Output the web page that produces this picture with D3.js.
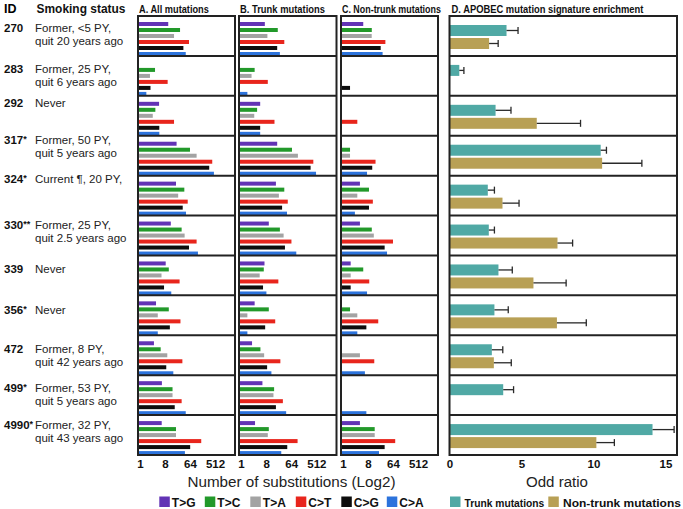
<!DOCTYPE html>
<html>
<head>
<meta charset="utf-8">
<script src="https://cdn.jsdelivr.net/npm/d3@7"></script>
<style>
  html, body { margin: 0; padding: 0; background: #fff; }
  svg { display: block; font-family: "Liberation Sans", Arial, Helvetica, sans-serif; }
</style>
</head>
<body>
<script>
// ---------------- DATA ----------------
const ids = ["270", "283", "292", "317*", "324*", "330**", "339", "356*", "472", "499*", "4990*"];
const smokingStatus = [
  ["Former, <5 PY,", "quit 20 years ago"],
  ["Former, 25 PY,", "quit 6 years ago"],
  ["Never"],
  ["Former, 50 PY,", "quit 5 years ago"],
  ["Current \u00B6, 20 PY,"],
  ["Former, 25 PY,", "quit 2.5 years ago"],
  ["Never"],
  ["Never"],
  ["Former, 8 PY,", "quit 42 years ago"],
  ["Former, 53 PY,", "quit 5 years ago"],
  ["Former, 32 PY,", "quit 43 years ago"]
];
const mutationTypes = ["T>G", "T>C", "T>A", "C>T", "C>G", "C>A"];
// number of substitutions per row, in mutationTypes order (0 = none)
const allMutations = [
  [10.5, 28, 17, 59, 37, 45],
  [0, 3.5, 2.3, 10, 2.4, 1.7],
  [4.9, 3.6, 2.9, 17, 5, 5],
  [21, 64, 111, 407, 317, 468],
  [20, 40, 24, 53, 35, 46],
  [13, 32, 41, 111, 59, 124],
  [8.5, 11, 6, 27, 7.4, 13.5],
  [3.8, 11, 4.4, 29, 12, 4.4],
  [3.2, 5.6, 9.7, 34, 8.9, 16],
  [6.2, 15, 15, 32, 18, 45],
  [6.1, 20, 20, 163, 65, 42]
];
const trunkMutations = [
  [7.2, 21, 8.9, 36, 20, 25],
  [0, 3.1, 2.4, 9.2, 0, 1.7],
  [4.9, 3.8, 3, 16, 4.9, 4.9],
  [20, 68, 111, 397, 317, 497],
  [18, 36, 23, 48, 30, 45],
  [10, 25, 34, 65, 38, 97],
  [7, 6.6, 4.7, 22, 6.2, 8.2],
  [3.1, 10, 1.7, 17, 7.4, 1.7],
  [2.5, 5, 6.8, 26, 8.7, 12.4],
  [5.9, 15.5, 14.7, 32, 18, 42],
  [3.2, 10, 9.2, 108, 46, 28]
];
const nonTrunkMutations = [
  [5.4, 11, 10.9, 34, 23, 27],
  [0, 0, 0, 0, 1.8, 0],
  [0, 0, 0, 3.3, 0, 0],
  [0, 1.8, 1.8, 15, 11.4, 7.4],
  [4.1, 8.7, 3.3, 12, 8.7, 2.7],
  [4.1, 11, 13, 64, 32, 39],
  [1.9, 5.4, 1.9, 8.9, 1.9, 7.4],
  [0, 1.8, 3.3, 18.8, 7, 3.3],
  [0, 0, 4.1, 13.5, 0, 6.2],
  [0, 0, 0, 0, 0, 7],
  [4.1, 14, 14, 77, 32, 20]
];
const substitutionTicks = [1, 8, 64, 512];
// APOBEC enrichment odds ratios (null = not shown)
const trunkOddRatio      = [3.96, 0.68, 3.2, 10.5, 2.66, 2.73, 3.4, 3.12, 2.94, 3.73, 14.1];
const trunkOddUpper      = [4.76, 1.0, 4.27, 10.9, 3.12, 3.12, 4.36, 4.08, 3.7, 4.45, 15.6];
const nonTrunkOddRatio   = [2.75, null, 6.06, 10.6, 3.68, 7.5, 5.83, 7.46, 3.08, null, 10.2];
const nonTrunkOddUpper   = [3.38, null, 9.1, 13.36, 4.83, 8.55, 8.1, 9.5, 4.29, null, 11.45];
const oddTicks = [0, 5, 10, 15];
const enrichmentSeries = ["Trunk mutations", "Non-trunk mutations"];

// ---------------- STYLE / LAYOUT ----------------
const mutColors = {"T>G": "#6233b5", "T>C": "#22992a", "T>A": "#a3a3a3", "C>T": "#e8251c", "C>G": "#0d0d0d", "C>A": "#2c73dc"};
const serColors = {"Trunk mutations": "#50a9a5", "Non-trunk mutations": "#b8a055"};
const labelNudge = [1, 2, -3.5, -7, -8, -2, 3, 4, 3, 1.5, -1];
const W = 683, H = 509;
const top0 = 16, bottom0 = 455;

const svg = d3.select("body").append("svg").attr("width", W).attr("height", H);

const rowScale = d3.scaleBand().domain(ids).range([top0, bottom0]);
const mutBand = d3.scaleBand().domain(mutationTypes).range([6, 40]).paddingInner(1 / 3).paddingOuter(0);
const serBand = d3.scaleBand().domain(enrichmentSeries).range([9, 33]).paddingInner(0.154).paddingOuter(0);

// condensed text: draw at a size, then squeeze horizontally to a target width
function narrowText(parent, x, y, str, size, target, weight) {
  const t = parent.append("text").attr("font-size", size).attr("font-weight", weight || "bold")
    .attr("fill", "#111").text(str);
  const w = t.node().getComputedTextLength();
  const s = w > 0 ? target / w : 1;
  t.attr("transform", `translate(${x},${y}) scale(${s},1)`);
  return t;
}

// header
svg.append("text").attr("x", 4).attr("y", 12.5).attr("font-size", 12.5).attr("font-weight", "bold").text("ID");
narrowText(svg, 36.5, 12.5, "Smoking status", 12, 89);

// left labels
ids.forEach((id, i) => {
  const yb = rowScale(id) + 15 + labelNudge[i];
  const num = id.replace(/\*/g, ""), stars = id.replace(/[^*]/g, "");
  const t = svg.append("text").attr("x", 4).attr("y", yb).attr("font-size", 11.5).attr("font-weight", "bold")
    .attr("fill", "#111");
  t.append("tspan").text(num);
  if (stars) t.append("tspan").attr("font-size", 9).attr("dy", -2).text(stars);
  smokingStatus[i].forEach((line, j) => {
    svg.append("text").attr("x", 35).attr("y", yb + j * 13).attr("font-size", 11.5)
      .attr("fill", "#222").text(line);
  });
});

// substitution panels
const panels = [
  {title: "A. All mutations", tl: 70, x0: 138, x1: 235, data: allMutations},
  {title: "B. Trunk mutations", tl: 85, x0: 239, x1: 336.5, data: trunkMutations},
  {title: "C. Non-trunk mutations", tl: 99, x0: 341, x1: 438, data: nonTrunkMutations}
];

panels.forEach(p => {
  const x = d3.scaleLog().base(2).domain([0.85, 2700]).range([p.x0, p.x1]);
  narrowText(svg, p.x0 + 1, 12.5, p.title, 11, p.tl);
  const g = svg.append("g");
  ids.forEach((id, i) => {
    const rg = g.append("g").attr("transform", `translate(0,${rowScale(id)})`);
    rg.selectAll("rect").data(mutationTypes.map((t, k) => ({t, v: p.data[i][k]})).filter(d => d.v > 0))
      .join("rect")
      .attr("x", x(0.85))
      .attr("y", d => mutBand(d.t))
      .attr("width", d => x(d.v) - x(0.85))
      .attr("height", mutBand.bandwidth())
      .attr("fill", d => mutColors[d.t]);
  });
  g.selectAll("line.sep").data(ids.slice(1)).join("line")
    .attr("x1", p.x0).attr("x2", p.x1)
    .attr("y1", d => rowScale(d)).attr("y2", d => rowScale(d))
    .attr("stroke", "#222").attr("stroke-width", 2);
  g.append("rect").attr("x", p.x0).attr("y", top0).attr("width", p.x1 - p.x0).attr("height", bottom0 - top0)
    .attr("fill", "none").attr("stroke", "#222").attr("stroke-width", 2);
  const ax = svg.append("g").attr("transform", `translate(0,${bottom0})`)
    .call(d3.axisBottom(x).tickValues(substitutionTicks).tickFormat(d3.format("d")).tickSize(0).tickPadding(5));
  ax.select(".domain").remove();
  ax.selectAll("text").attr("font-size", 11.5).attr("font-weight", "bold").attr("fill", "#111")
    .attr("font-family", '"Liberation Sans", Arial, sans-serif');
});

// D panel
const dx0 = 449.5, dx1 = 677;
const xd = d3.scaleLinear().domain([0, 15.8]).range([dx0, dx1]);
narrowText(svg, 451.5, 12.5, "D. APOBEC mutation signature enrichment", 11, 192);

const gd = svg.append("g");
ids.forEach((id, i) => {
  const rg = gd.append("g").attr("transform", `translate(0,${rowScale(id)})`);
  const recs = [
    {s: enrichmentSeries[0], v: trunkOddRatio[i], u: trunkOddUpper[i]},
    {s: enrichmentSeries[1], v: nonTrunkOddRatio[i], u: nonTrunkOddUpper[i]}
  ].filter(d => d.v != null);
  rg.selectAll("rect").data(recs).join("rect")
    .attr("x", xd(0)).attr("y", d => serBand(d.s))
    .attr("width", d => xd(d.v) - xd(0)).attr("height", serBand.bandwidth())
    .attr("fill", d => serColors[d.s]);
  rg.selectAll("line.err").data(recs).join("line").attr("class", "err")
    .attr("x1", d => xd(d.v)).attr("x2", d => xd(d.u))
    .attr("y1", d => serBand(d.s) + serBand.bandwidth() / 2)
    .attr("y2", d => serBand(d.s) + serBand.bandwidth() / 2)
    .attr("stroke", "#2a2a2a").attr("stroke-width", 1.3);
  rg.selectAll("line.cap").data(recs).join("line").attr("class", "cap")
    .attr("x1", d => xd(d.u)).attr("x2", d => xd(d.u))
    .attr("y1", d => serBand(d.s) + serBand.bandwidth() / 2 - 3.5)
    .attr("y2", d => serBand(d.s) + serBand.bandwidth() / 2 + 3.5)
    .attr("stroke", "#2a2a2a").attr("stroke-width", 1.3);
});
gd.selectAll("line.sep").data(ids.slice(1)).join("line")
  .attr("x1", dx0).attr("x2", dx1)
  .attr("y1", d => rowScale(d)).attr("y2", d => rowScale(d))
  .attr("stroke", "#222").attr("stroke-width", 2);
gd.append("rect").attr("x", dx0).attr("y", top0).attr("width", dx1 - dx0).attr("height", bottom0 - top0)
  .attr("fill", "none").attr("stroke", "#222").attr("stroke-width", 2);
const axd = svg.append("g").attr("transform", `translate(0,${bottom0})`)
  .call(d3.axisBottom(xd).tickValues(oddTicks).tickFormat(d3.format("d")).tickSize(0).tickPadding(5));
axd.select(".domain").remove();
axd.selectAll("text").attr("font-size", 11.5).attr("font-weight", "bold").attr("fill", "#111")
  .attr("font-family", '"Liberation Sans", Arial, sans-serif');

// axis titles
svg.append("text").attr("x", 291.5).attr("y", 487).attr("text-anchor", "middle").attr("font-size", 14)
  .attr("fill", "#222").attr("textLength", 208).attr("lengthAdjust", "spacingAndGlyphs")
  .text("Number of substitutions (Log2)");
svg.append("text").attr("x", 557).attr("y", 487).attr("text-anchor", "middle").attr("font-size", 14)
  .attr("fill", "#222").attr("textLength", 62).attr("lengthAdjust", "spacingAndGlyphs")
  .text("Odd ratio");

// legends
const legMut = svg.append("g");
mutationTypes.forEach((t, k) => {
  const lx = 159.3 + k * 45.5;
  legMut.append("rect").attr("x", lx).attr("y", 496.5).attr("width", 10.5).attr("height", 10.5).attr("fill", mutColors[t]);
  legMut.append("text").attr("x", lx + 12.5).attr("y", 507).attr("font-size", 12).attr("font-weight", "bold")
    .attr("fill", "#111").text(t);
});
const legSer = [
  {s: enrichmentSeries[0], x: 450, tx: 464.5, tl: 80},
  {s: enrichmentSeries[1], x: 548.3, tx: 563, tl: 118}
];
legSer.forEach(d => {
  svg.append("rect").attr("x", d.x).attr("y", 496.5).attr("width", 10.5).attr("height", 10.5).attr("fill", serColors[d.s]);
  narrowText(svg, d.tx, 507, d.s, 11, d.tl);
});
</script>
</body>
</html>
